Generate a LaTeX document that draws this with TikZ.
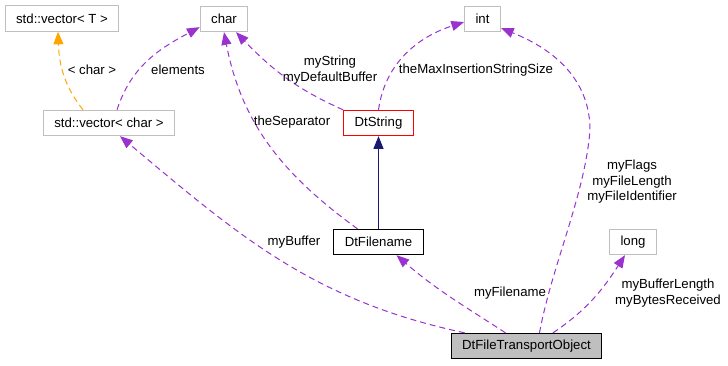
\documentclass[tikz,border=0pt]{standalone}
\usepackage{fontspec}
\setmainfont{Liberation Sans}
\usetikzlibrary{arrows.meta,calc}

\definecolor{edgepurple}{HTML}{9A32CD}
\definecolor{edgeorange}{HTML}{FFA500}
\definecolor{edgenavy}{HTML}{191970}
\definecolor{boxgray}{HTML}{BFBFBF}

\begin{document}
\begin{tikzpicture}[x=0.75pt, y=0.75pt,
  font=\fontsize{9.9}{11.6}\selectfont,
  cls/.style={rectangle, draw=boxgray, line width=0.75pt, inner xsep=8.25pt, inner ysep=0pt, minimum height=19pt},
  lbl/.style={align=center, inner sep=0pt},
  use/.style={draw=edgepurple, line width=0.75pt, dash pattern=on 4.5pt off 3pt, -{Triangle[length=9.5pt,width=7.5pt]}},
  inst/.style={use, draw=edgeorange},
  inh/.style={draw=edgenavy, line width=0.75pt, -{Triangle[length=9.5pt,width=7.5pt]}}]
\useasboundingbox (0,0) rectangle (728,365);
%
% --- Classes ---
\node[cls] (vecT) at (62,346.5) {std::vector< T >};
\node[cls] (chr) at (224,346) {char};
\node[cls] (intT) at (482.5,346) {int};
\node[cls] (vecc) at (109,242) {std::vector< char >};
\node[cls, draw=red] (dtstr) at (378.5,242) {DtString};
\node[cls, draw=black] (dtfn) at (378.5,123) {DtFilename};
\node[cls] (lng) at (633,123) {long};
\node[cls, draw=black, fill=boxgray] (tobj) at (526.5,19) {DtFileTransportObject};
%
% --- Template instance ---
\draw[inst] ($(vecc.north)+(-26,0)$) to[out=128,in=-88] ($(vecT.south)+(-4,0)$);
\node[lbl] (lchr) at (92,295) {< char >};
%
% --- Inheritance ---
\draw[inh] (dtfn.north) -- (dtstr.south);
%
% --- Usage ---
\draw[use] ($(vecc.north)+(8,0)$) to[out=72,in=208] ($(chr.south west)+(0,5)$);
\draw[use] ($(dtfn.north)+(-21,0)$) to[out=144,in=-79] (chr.south);
\draw[use] (dtstr.north west) to[out=156,in=-46] ($(chr.south)+(12,0)$);
\draw[use] (dtstr.north) to[out=82,in=198] ($(intT.west)+(0,-3)$);
\draw[use] ($(tobj.north west)+(14,0)$) to[out=168,in=-40] ($(vecc.south)+(11,0)$);
\draw[use] ($(tobj.north)+(-21,0)$) to[out=147,in=-41] ($(dtfn.south)+(18,0)$);
\draw[use] ($(tobj.north)+(13,0)$) .. controls (552,100) and (585,170) .. (590,235)
  .. controls (590,300) and (530,325) .. ($(intT.east)+(0,-9)$);
\draw[use] ($(tobj.north)+(26.5,0)$) to[out=34,in=237] ($(lng.south)+(-8,0)$);
%
% --- Edge labels ---
\node[lbl] (lelem) at (178,295) {elements};
\node[lbl] (lsep) at (292,243) {theSeparator};
\node[lbl] (lstr) at (330,295) {myString\\myDefaultBuffer};
\node[lbl] (lmax) at (476,295) {theMaxInsertionStringSize};
\node[lbl] (lbuf) at (294,123) {myBuffer};
\node[lbl] (lfn) at (510,72) {myFilename};
\node[lbl] (lflag) at (632,183) {myFlags\\myFileLength\\myFileIdentifier};
\node[lbl] (llen) at (668,72) {myBufferLength\\myBytesReceived};
%
\end{tikzpicture}
\end{document}
